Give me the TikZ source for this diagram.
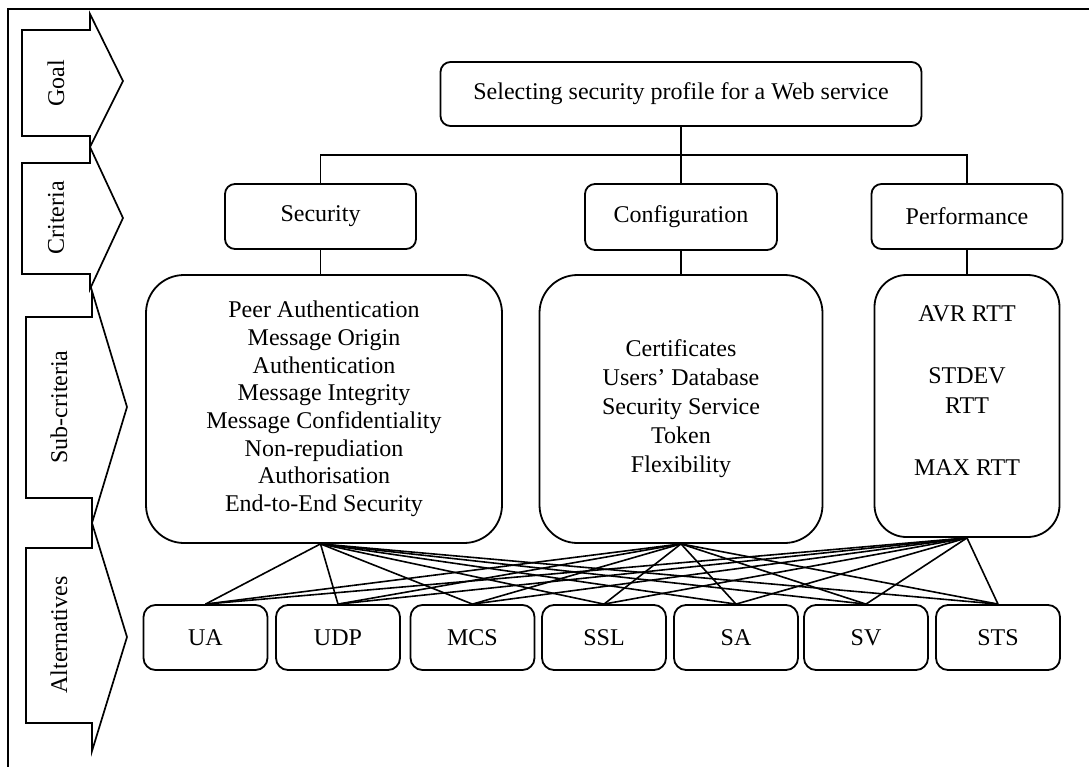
\documentclass[tikz,border=0pt]{standalone}
\usepackage{fontspec}
\setmainfont{Liberation Serif}
\begin{document}
\begin{tikzpicture}[x=0.5pt,y=-0.5pt,
  every node/.style={font=\fontsize{12}{13.8}\selectfont},
  box/.style={draw, line width=0.9pt, rounded corners=#1, align=center, inner sep=0pt},
  box/.default=5pt,
  stage/.style={draw, line width=0.85pt, line join=miter},
  link/.style={line width=0.8pt},
  fan/.style={line width=0.8pt},
  frame/.style={line width=1.3pt}]
\useasboundingbox (0,0) rectangle (1089,767);

% page frame (top and left edges)
\draw[frame] (1089,9) -- (8,9) -- (8,767);

% level arrows on the left
\draw[stage] (22,30) -- (90,30) -- (90,14) -- (123,81) -- (90,147) -- (90,136) -- (22,136) -- cycle;
\node[rotate=90] (lgoal) at (56,83) {Goal};
\draw[stage] (22,163) -- (90,163) -- (90,147) -- (123,218) -- (90,289) -- (90,274) -- (22,274) -- cycle;
\node[rotate=90] (lcrit) at (56,218) {Criteria};
\draw[stage] (26,317) -- (92,317) -- (92,291) -- (127,407) -- (92,523) -- (92,498) -- (26,498) -- cycle;
\node[rotate=90] (lsub) at (59,407) {Sub-criteria};
\draw[stage] (26,548) -- (92,548) -- (92,523) -- (127,637) -- (92,751) -- (92,723) -- (26,723) -- cycle;
\node[rotate=90] (lalt) at (59,635) {Alternatives};

% goal
\node[box, minimum width=240.5pt, minimum height=32pt] (goal) at (681,94)
  {Selecting security profile for a Web service};

% criteria
\node[box, minimum width=95.5pt, minimum height=32.5pt] (sec) at (320.5,216.5) {Security};
\node[box, minimum width=96pt, minimum height=33pt] (conf) at (681,217) {Configuration};
\node[box, minimum width=95.5pt, minimum height=32.5pt] (perf) at (967,216.5) {Performance};

% sub-criteria
\node[box=19pt, minimum width=178pt, minimum height=134pt,
      font=\fontsize{12}{13.85}\selectfont] (secsub) at (324,409)
  {Peer Authentication\\Message Origin\\Authentication\\Message Integrity\\
   Message Confidentiality\\Non-repudiation\\Authorisation\\End-to-End Security};
\node[box=19pt, minimum width=141.5pt, minimum height=134pt,
      font=\fontsize{12}{14.5}\selectfont] (confsub) at (681,409)
  {Certificates\\Users’ Database\\Security Service\\Token\\Flexibility};
\node[box=16pt, minimum width=92.5pt, minimum height=131pt,
      font=\fontsize{12}{15.4}\selectfont] (perfsub) at (967,406)
  {AVR RTT\\\mbox{}\\STDEV\\RTT\\\mbox{}\\MAX RTT\\\mbox{}};

% alternatives
\foreach \n/\t/\cx in {ua/UA/205.5, udp/UDP/338, mcs/MCS/472.5, ssl/SSL/604,
                       sa/SA/736, sv/SV/866, sts/STS/998}
  \node[box=6pt, minimum width=62pt, minimum height=32.5pt] (\n) at (\cx,637.5) {\t};

% hierarchy links
\coordinate (bar) at (681,155);
\coordinate (secin) at (sec.south |- secsub.north);
\coordinate (secout) at (sec.south |- secsub.south);
\draw[link] (goal.south) -- (conf.north);
\draw[link] (sec.north) |- (bar) -| (perf.north);
\draw[link] (sec.south) -- (secin);
\draw[link] (conf.south) -- (confsub.north);
\draw[link] (perf.south) -- (perfsub.north);

% every sub-criteria group links to every alternative
\foreach \s in {secout,confsub.south,perfsub.south}
  \foreach \a in {ua,udp,mcs,ssl,sa,sv,sts}
    \draw[fan] (\s) -- (\a.north);
\end{tikzpicture}
\end{document}
